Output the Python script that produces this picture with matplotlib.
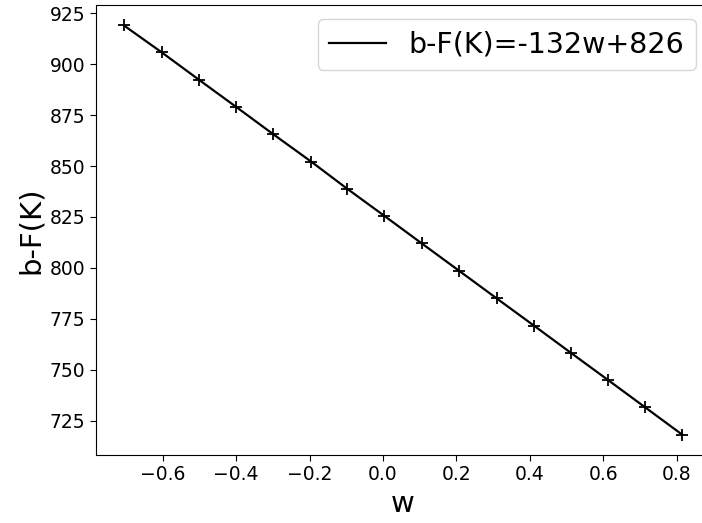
import matplotlib
matplotlib.use("Agg")
import matplotlib.pyplot as plt

# data
w = [-0.706, -0.603, -0.502, -0.400, -0.299, -0.196, -0.098, 0.004,
     0.105, 0.208, 0.310, 0.411, 0.512, 0.613, 0.714, 0.815]
bF = [919.0, 905.8, 892.4, 879.0, 865.6, 852.2, 838.9, 825.5,
      812.1, 798.5, 785.0, 771.7, 758.3, 745.0, 731.6, 718.2]
label = "b-F(K)=-132w+826"

fig = plt.figure(figsize=(7.02, 5.23), dpi=100)
ax = fig.add_axes([0.1368, 0.130, 0.8746, 0.8604])

ax.plot(w, bF, color="black", linewidth=1.6, label=label)
ax.plot(w, bF, "+", color="black", markersize=8, markeredgewidth=1.3)

ax.set_xlabel("w", fontsize=21)
ax.set_ylabel("b-F(K)", fontsize=21)
ax.tick_params(labelsize=13.5, length=4)
ax.legend(loc="upper right", fontsize=20.5, bbox_to_anchor=(1.0, 1.0))

fig.savefig("out.png", dpi=100)
